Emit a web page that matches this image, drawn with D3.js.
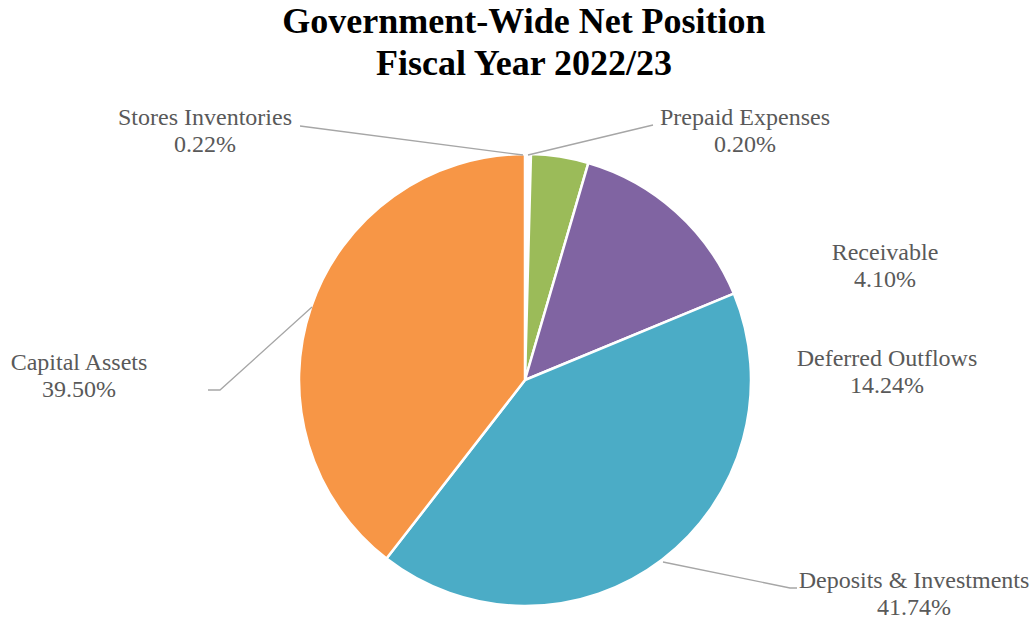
<!DOCTYPE html>
<html><head><meta charset="utf-8">
<script src="https://cdn.jsdelivr.net/npm/d3@7"></script>
<style>body{margin:0;background:#fff}svg{display:block}</style>
</head><body>
<svg id="c" width="1033" height="620"></svg>
<script>
const categories = ["Prepaid Expenses","Stores Inventories","Receivable","Deferred Outflows","Deposits & Investments","Capital Assets"];
const values = [0.20, 0.22, 4.10, 14.24, 41.74, 39.50];
const colors = ["#ffffff","#ffffff","#9BBB59","#8064A2","#4BACC6","#F79646"];
const titleLines = ["Government-Wide Net Position","Fiscal Year 2022/23"];

// label layout (positions only): x = centre, y = first-line baseline
const labelPos = {
  "Stores Inventories": {x:205, y:125, line:[[300,126],[523,155]]},
  "Prepaid Expenses": {x:745, y:125, line:[[653,125],[528,155]]},
  "Receivable": {x:885, y:260},
  "Deferred Outflows": {x:887, y:366},
  "Capital Assets": {x:79, y:370, line:[[208,390],[220,390],[312,307]]},
  "Deposits & Investments": {x:914, y:588, line:[[663,562],[790,588],[797,588]]}
};

const svg = d3.select("#c");
const cx = 525, cy = 380, R = 226;
const serif = "'Liberation Serif','Times New Roman',Times,serif";

svg.selectAll("text.title").data(titleLines).join("text")
  .attr("class","title")
  .attr("x", 524).attr("y",(d,i)=>33+i*42)
  .attr("text-anchor","middle")
  .attr("font-family",serif)
  .attr("font-weight","bold").attr("font-size",36).attr("fill","#000")
  .text(d=>d);

const data = categories.map((c,i)=>({name:c, value:values[i], color:colors[i]}));
const pie = d3.pie().value(d=>d.value).sort(null);
const arc = d3.arc().innerRadius(0).outerRadius(R);

const g = svg.append("g").attr("transform",`translate(${cx},${cy})`);
g.selectAll("path").data(pie(data)).join("path")
  .attr("d",arc).attr("fill",d=>d.data.color)
  .attr("stroke","#fff").attr("stroke-width",2.5).attr("stroke-linejoin","round");

// leader lines
data.forEach(d=>{
  const p = labelPos[d.name];
  if(p.line){
    svg.append("path").attr("d", d3.line()(p.line))
      .attr("fill","none").attr("stroke","#A6A6A6").attr("stroke-width",1.3);
  }
});

// labels
const lab = svg.selectAll("g.lab").data(data).join("g").attr("class","lab");
lab.append("text").attr("x",d=>labelPos[d.name].x).attr("y",d=>labelPos[d.name].y)
  .attr("text-anchor","middle")
  .attr("font-family",serif)
  .attr("font-size",24).attr("fill","#595959")
  .text(d=>d.name);
lab.append("text").attr("x",d=>labelPos[d.name].x).attr("y",d=>labelPos[d.name].y+27)
  .attr("text-anchor","middle")
  .attr("font-family",serif)
  .attr("font-size",24).attr("fill","#595959")
  .text(d=>d.value.toFixed(2)+"%");
</script>
</body></html>
